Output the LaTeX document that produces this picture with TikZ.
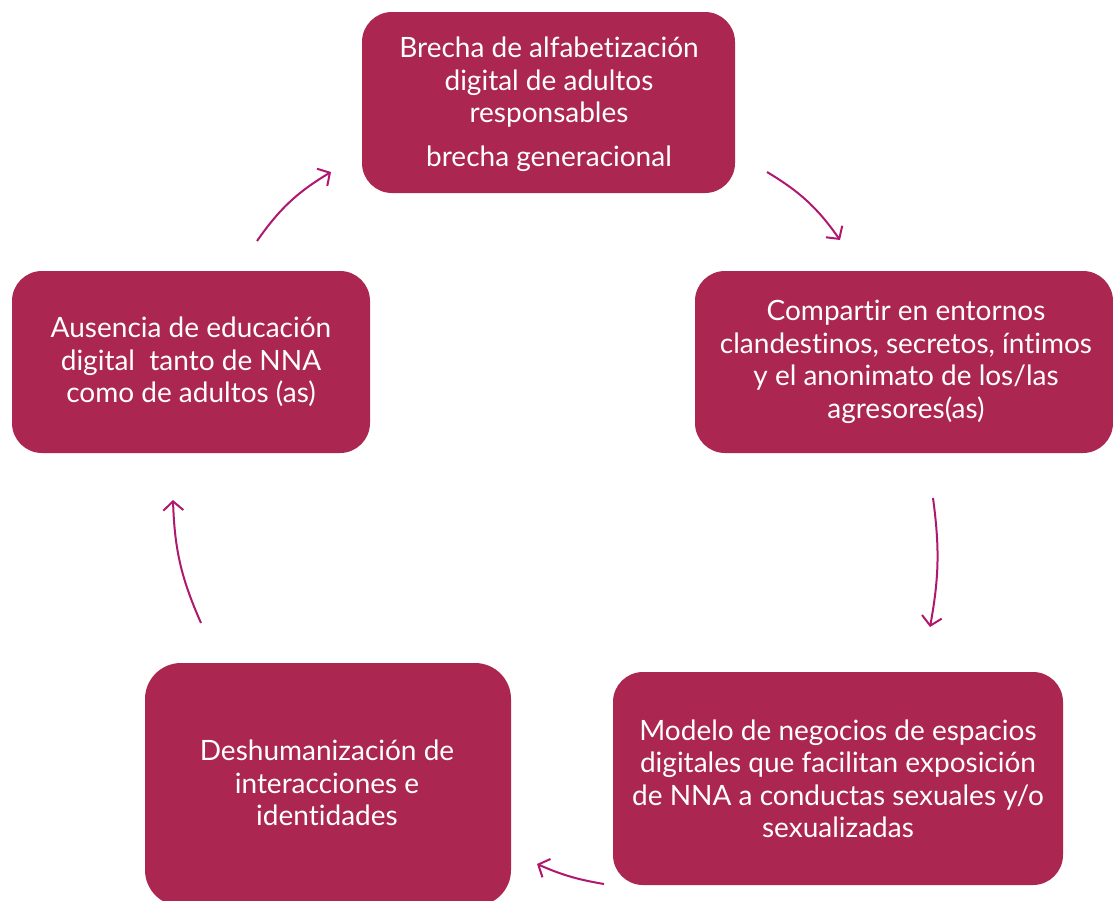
\documentclass[tikz,border=0pt]{standalone}
\usepackage{fontspec}
\setmainfont[RawFeature={-liga;-clig;-dlig;-calt}]{Lato}
\usetikzlibrary{arrows.meta}
\definecolor{boxred}{HTML}{AB2650}
\definecolor{arrowpink}{HTML}{B0186F}
\tikzset{
  box/.style={text=white, align=center,
    font=\fontsize{28}{32.5}\selectfont, inner sep=0pt},
  boxfill/.style={fill=boxred, rounded corners=30pt},
  cyc/.style={draw=arrowpink, line width=2pt, -{Straight Barb[length=9pt,width=20pt,line width=2pt]}}
}
\begin{document}
\begin{tikzpicture}[x=1pt,y=-1pt]
\useasboundingbox (0,0) rectangle (1113,900);
\begin{scope}
\clip (0,0) rectangle (1113,900);
% boxes
\fill[boxfill] (362,12) rectangle (735,193);
\node[box] (top) at (549,104) {Brecha de alfabetización\\digital de adultos\\responsables\\[11pt]brecha generacional};
\fill[boxfill] (695,271) rectangle (1113,453);
\node[box] (right) at (906,362) {Compartir en entornos\\clandestinos, secretos, íntimos\\y el anonimato de los/las\\agresores(as)};
\fill[boxfill] (12,271) rectangle (370,453);
\node[box] (left) at (191,362) {Ausencia de educación\\digital\ \ tanto de NNA\\como de adultos (as)};
\fill[boxfill] (613,672) rectangle (1063,885);
\node[box] (br) at (838,779) {Modelo de negocios de espacios\\digitales que facilitan exposición\\de NNA a conductas sexuales y/o\\sexualizadas};
\fill[boxfill, rounded corners=36pt] (145,663) rectangle (511,906);
\node[box] (bl) at (327,783) {Deshumanización de\\interacciones e\\identidades};
\end{scope}
% arrow end points
\coordinate (a1s) at (257,241); \coordinate (a1e) at (331,172);
\coordinate (a2s) at (767,172); \coordinate (a2e) at (840,240);
\coordinate (a3s) at (933,498); \coordinate (a3e) at (930,627);
\coordinate (a4s) at (604,884); \coordinate (a4e) at (537,864);
\coordinate (a5s) at (201,623); \coordinate (a5e) at (173,500);
\draw[cyc] (a1s) to[bend left=12] (a1e);
\draw[cyc] (a2s) to[bend left=12] (a2e);
\draw[cyc] (a3s) to[bend left=9] (a3e);
\draw[cyc] (a4s) to[bend left=7] (a4e);
\draw[cyc] (a5s) to[bend left=11] (a5e);
\end{tikzpicture}
\end{document}
